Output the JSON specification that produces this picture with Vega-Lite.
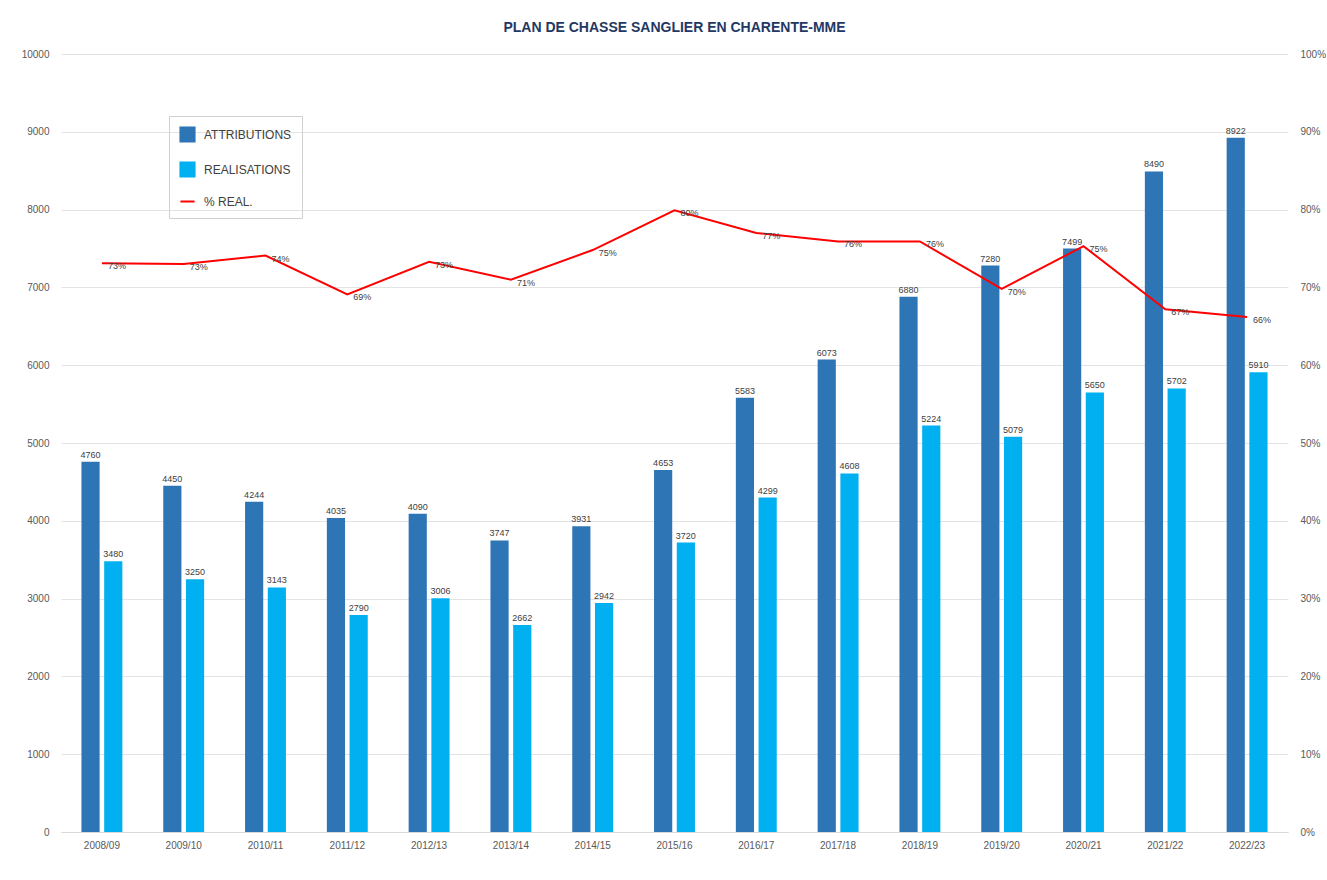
{
  "$schema": "https://vega.github.io/schema/vega-lite/v6.json",
  "autosize": {"type": "none"},
  "width": 1227,
  "height": 778,
  "padding": {"left": 61, "top": 54, "right": 39, "bottom": 48},
  "background": "white",
  "title": {"text": "PLAN DE CHASSE SANGLIER EN CHARENTE-MME", "fontSize": 14, "fontWeight": "bold", "color": "#1F3864", "font": "Liberation Sans", "anchor": "middle", "offset": 14},
  "config": {"view": {"stroke": null}, "font": "Liberation Sans"},
  "data": {"values": [
    {"saison": "2008/09", "ATTRIBUTIONS": 4760, "REALISATIONS": 3480, "pct": 0.731},
    {"saison": "2009/10", "ATTRIBUTIONS": 4450, "REALISATIONS": 3250, "pct": 0.730},
    {"saison": "2010/11", "ATTRIBUTIONS": 4244, "REALISATIONS": 3143, "pct": 0.741},
    {"saison": "2011/12", "ATTRIBUTIONS": 4035, "REALISATIONS": 2790, "pct": 0.691},
    {"saison": "2012/13", "ATTRIBUTIONS": 4090, "REALISATIONS": 3006, "pct": 0.733},
    {"saison": "2013/14", "ATTRIBUTIONS": 3747, "REALISATIONS": 2662, "pct": 0.710},
    {"saison": "2014/15", "ATTRIBUTIONS": 3931, "REALISATIONS": 2942, "pct": 0.748},
    {"saison": "2015/16", "ATTRIBUTIONS": 4653, "REALISATIONS": 3720, "pct": 0.799},
    {"saison": "2016/17", "ATTRIBUTIONS": 5583, "REALISATIONS": 4299, "pct": 0.770},
    {"saison": "2017/18", "ATTRIBUTIONS": 6073, "REALISATIONS": 4608, "pct": 0.759},
    {"saison": "2018/19", "ATTRIBUTIONS": 6880, "REALISATIONS": 5224, "pct": 0.759},
    {"saison": "2019/20", "ATTRIBUTIONS": 7280, "REALISATIONS": 5079, "pct": 0.698},
    {"saison": "2020/21", "ATTRIBUTIONS": 7499, "REALISATIONS": 5650, "pct": 0.753},
    {"saison": "2021/22", "ATTRIBUTIONS": 8490, "REALISATIONS": 5702, "pct": 0.672},
    {"saison": "2022/23", "ATTRIBUTIONS": 8922, "REALISATIONS": 5910, "pct": 0.662}
  ]},
  "encoding": {
    "x": {"field": "saison", "type": "nominal", "sort": null,
      "scale": {"paddingInner": 0.5, "paddingOuter": 0.25},
      "axis": {"title": null, "labelAngle": 0, "labelColor": "#595959", "labelFontSize": 10, "labelPadding": 8, "ticks": false, "domainColor": "#D9D9D9", "domainWidth": 1}}
  },
  "layer": [
    {
      "transform": [{"fold": ["ATTRIBUTIONS", "REALISATIONS"], "as": ["serie", "valeur"]}],
      "encoding": {
        "xOffset": {"field": "serie", "type": "nominal", "scale": {"paddingInner": 0.2}},
        "y": {"field": "valeur", "type": "quantitative",
          "scale": {"domain": [0, 10000]},
          "axis": {"title": null, "orient": "left", "values": [0,1000,2000,3000,4000,5000,6000,7000,8000,9000,10000], "format": "d", "grid": true, "gridColor": "#E3E3E3", "domain": false, "ticks": false, "labelColor": "#595959", "labelFontSize": 10, "labelPadding": 12}}
      },
      "layer": [
        {"mark": {"type": "bar"},
         "encoding": {"color": {"field": "serie", "type": "nominal",
            "scale": {"domain": ["ATTRIBUTIONS", "REALISATIONS", "% REAL."], "range": ["#2E75B6", "#00B0F0", "#FF0000"]},
            "legend": {"title": null, "orient": "none", "legendX": 108, "legendY": 62, "labelFontSize": 12, "labelColor": "#404040", "symbolSize": 200, "rowPadding": 12, "padding": 10, "labelOffset": 8, "strokeColor": "#D0D0D0", "labelLimit": 300,
              "encode": {"symbols": {"update": {
                "shape": {"signal": "datum.value === '% REAL.' ? 'stroke' : 'square'"},
                "stroke": {"signal": "datum.value === '% REAL.' ? '#FF0000' : 'transparent'"},
                "strokeWidth": {"value": 2}}}}}}}},
        {"mark": {"type": "text", "dy": -7, "fontSize": 9, "color": "#404040"},
         "encoding": {"text": {"field": "valeur", "type": "quantitative", "format": "d"}}}
      ]
    },
    {
      "encoding": {
        "y": {"field": "pct", "type": "quantitative",
          "scale": {"domain": [0, 1]},
          "axis": {"title": null, "orient": "right", "values": [0,0.1,0.2,0.3,0.4,0.5,0.6,0.7,0.8,0.9,1], "format": ".0%", "grid": false, "domain": false, "ticks": false, "labelColor": "#595959", "labelFontSize": 10, "labelPadding": 12}}
      },
      "layer": [
        {"mark": {"type": "line", "strokeWidth": 2},
         "encoding": {"color": {"datum": "% REAL."}}},
        {"mark": {"type": "text", "align": "left", "dx": 6, "dy": 3, "fontSize": 9, "color": "#404040"},
         "encoding": {"text": {"field": "pct", "type": "quantitative", "format": ".0%"}}}
      ]
    }
  ],
  "resolve": {"scale": {"y": "independent"}}
}
